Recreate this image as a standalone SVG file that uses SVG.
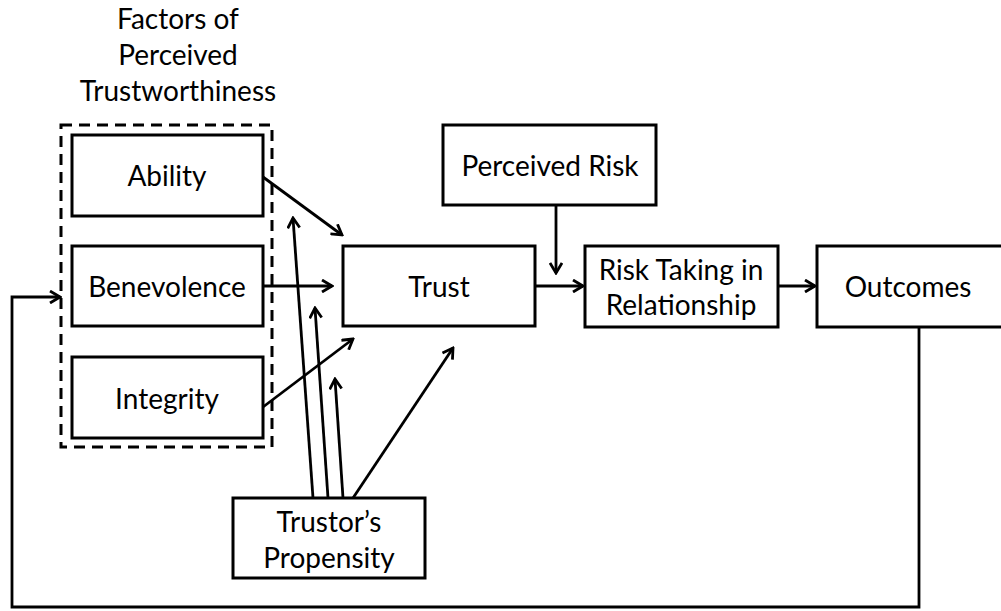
<svg xmlns="http://www.w3.org/2000/svg" width="1001" height="611" viewBox="0 0 1001 611">
  <defs>
    <style>
      .box { fill: #ffffff; stroke: #000000; stroke-width: 3; }
      .group { fill: none; stroke: #000000; stroke-width: 3; stroke-dasharray: 11 7; }
      .conn { fill: none; stroke: #000000; stroke-width: 2.8; }
      .lbl { font-family: Lato, "Liberation Sans", sans-serif; font-size: 28px; fill: #000000; text-anchor: middle; }
    </style>
    <marker id="arrow" viewBox="0 0 14 14" refX="12" refY="7" markerWidth="14" markerHeight="14" markerUnits="userSpaceOnUse" orient="auto">
      <path d="M2,1 L12,7 L2,13" fill="none" stroke="#000000" stroke-width="2.8" stroke-linejoin="miter"/>
    </marker>
  </defs>

  <rect width="1001" height="611" fill="#ffffff"/>

  <!-- group of trustworthiness factors -->
  <g id="factors">
    <rect class="group" x="61" y="125" width="211" height="322"/>
    <text class="lbl" x="178" y="29">Factors of</text>
    <text class="lbl" x="178" y="65">Perceived</text>
    <text class="lbl" x="178" y="101">Trustworthiness</text>
  </g>

  <g id="ability">
    <rect class="box" x="72" y="135" width="191" height="81"/>
    <text class="lbl" x="167" y="186">Ability</text>
  </g>
  <g id="benevolence">
    <rect class="box" x="72" y="246" width="191" height="80"/>
    <text class="lbl" x="167" y="297">Benevolence</text>
  </g>
  <g id="integrity">
    <rect class="box" x="72" y="357" width="191" height="81"/>
    <text class="lbl" x="167" y="409">Integrity</text>
  </g>
  <g id="trust">
    <rect class="box" x="343" y="246" width="192" height="80"/>
    <text class="lbl" x="439" y="297">Trust</text>
  </g>
  <g id="perceived-risk">
    <rect class="box" x="443" y="125" width="213" height="80"/>
    <text class="lbl" x="550" y="176">Perceived Risk</text>
  </g>
  <g id="risk-taking">
    <rect class="box" x="585" y="246" width="193" height="81"/>
    <text class="lbl" x="681" y="280">Risk Taking in</text>
    <text class="lbl" x="681" y="315">Relationship</text>
  </g>
  <g id="outcomes">
    <rect class="box" x="817" y="246" width="200" height="81"/>
    <text class="lbl" x="908" y="297">Outcomes</text>
  </g>
  <g id="propensity">
    <rect class="box" x="233" y="498" width="192" height="80"/>
    <text class="lbl" x="329" y="532">Trustor’s</text>
    <text class="lbl" x="329" y="568">Propensity</text>
  </g>

  <g id="connectors">
    <line class="conn" x1="263" y1="177" x2="342" y2="235" marker-end="url(#arrow)"/>
    <line class="conn" x1="263" y1="286" x2="332" y2="286" marker-end="url(#arrow)"/>
    <line class="conn" x1="263" y1="407" x2="353" y2="339" marker-end="url(#arrow)"/>
    <line class="conn" x1="313" y1="498" x2="293" y2="218" marker-end="url(#arrow)"/>
    <line class="conn" x1="328" y1="498" x2="315" y2="308" marker-end="url(#arrow)"/>
    <line class="conn" x1="343" y1="498" x2="335" y2="379" marker-end="url(#arrow)"/>
    <line class="conn" x1="353" y1="498" x2="453" y2="348" marker-end="url(#arrow)"/>
    <line class="conn" x1="535" y1="286" x2="583" y2="286" marker-end="url(#arrow)"/>
    <line class="conn" x1="556" y1="205" x2="556" y2="273" marker-end="url(#arrow)"/>
    <line class="conn" x1="778" y1="286" x2="815" y2="286" marker-end="url(#arrow)"/>
    <polyline class="conn" points="919,327 919,607 12,607 12,297 60,297" marker-end="url(#arrow)"/>
  </g>
</svg>
